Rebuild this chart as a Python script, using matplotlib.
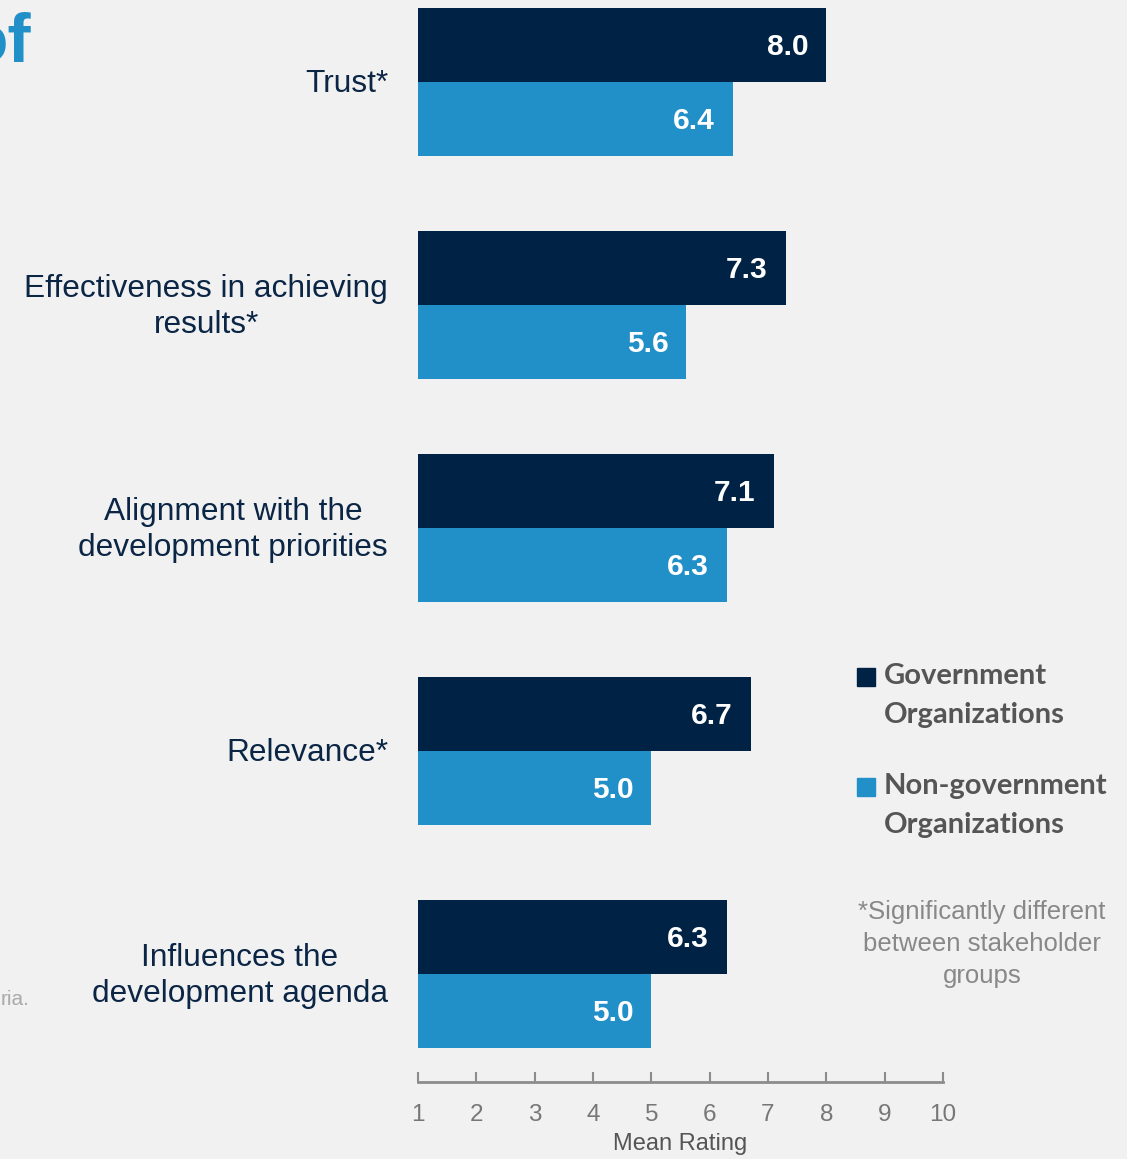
import matplotlib
matplotlib.use("Agg")
import matplotlib.pyplot as plt
from matplotlib.patches import Rectangle

categories = ["Trust*", "Effectiveness in achieving\nresults*", "Alignment with the\ndevelopment priorities",
              "Relevance*", "Influences the\ndevelopment agenda"]
gov = [8.0, 7.3, 7.1, 6.7, 6.3]
nongov = [6.4, 5.6, 6.3, 5.0, 5.0]
series_names = ["Government\nOrganizations", "Non-government\nOrganizations"]
ticks = [1, 2, 3, 4, 5, 6, 7, 8, 9, 10]

W, H = 1127, 1159
BG = "#f1f1f1"
NAVY = "#002245"
BLUE = "#2290c8"
TEXT = "#0b2545"

plt.rcParams["font.family"] = ["Liberation Sans", "DejaVu Sans"]

fig = plt.figure(figsize=(W / 100, H / 100), dpi=100, facecolor=BG)


def fx(x):
    return x / W


def fy(y):
    return 1 - y / H


ax = fig.add_axes([fx(418), fy(1082), fx(943) - fx(418), fy(0) - fy(1082)])
ax.set_facecolor(BG)

h = 0.332
y = list(range(len(categories)))
ax.barh([i - h / 2 for i in y], gov, height=h, color=NAVY)
ax.barh([i + h / 2 for i in y], nongov, height=h, color=BLUE)

for i in y:
    ax.annotate(f"{gov[i]:.1f}", (gov[i], i - h / 2), xytext=(-18, -2), textcoords="offset pixels",
                ha="right", va="center", color="white", fontsize=21.5, fontweight="bold")
    ax.annotate(f"{nongov[i]:.1f}", (nongov[i], i + h / 2), xytext=(-18, -2), textcoords="offset pixels",
                ha="right", va="center", color="white", fontsize=21.5, fontweight="bold")
    ax.annotate(categories[i], (1, i), xytext=(-30, -2), textcoords="offset pixels",
                ha="right", va="center", multialignment="center", color=TEXT, fontsize=22.8,
                linespacing=1.28, annotation_clip=False)

ax.set_xlim(1, 10)
ax.set_ylim(len(categories) - 1 + 0.484, -0.368)
ax.set_xticks(ticks)
ax.set_yticks([])
for s in ["top", "left", "right"]:
    ax.spines[s].set_visible(False)
ax.spines["bottom"].set_color("#8c8c8c")
ax.spines["bottom"].set_linewidth(2)
ax.tick_params(axis="x", direction="in", length=7, width=1.5, color="#8c8c8c",
               labelsize=17.5, labelcolor="#777777", pad=16)
ax.set_xlabel("Mean Rating", fontsize=17, color="#555555", labelpad=5)

# legend
for (y0, col, name) in [(668, NAVY, series_names[0]), (778, BLUE, series_names[1])]:
    fig.patches.append(Rectangle((fx(857), fy(y0 + 18)), fx(18), 18 / H, color=col,
                                 transform=fig.transFigure))
    fig.text(fx(884), fy(y0 - 5), name, ha="left", va="top", fontsize=21, fontweight="bold",
             color="#555555", family=["Lato", "DejaVu Sans"], linespacing=1.62)

fig.text(fx(982), fy(900), "*Significantly different\nbetween stakeholder\ngroups", ha="center", va="top",
         fontsize=18.5, color="#888888", linespacing=1.42)

# cut-off fragments at the left edge
fig.text(fx(31), fy(62), "of", ha="right", va="baseline", fontsize=50, fontweight="bold", color=BLUE)
fig.text(fx(30), fy(1005), "ria.", ha="right", va="baseline", fontsize=15, color="#aaaaaa")

fig.savefig("out.png", dpi=100, facecolor=BG)
